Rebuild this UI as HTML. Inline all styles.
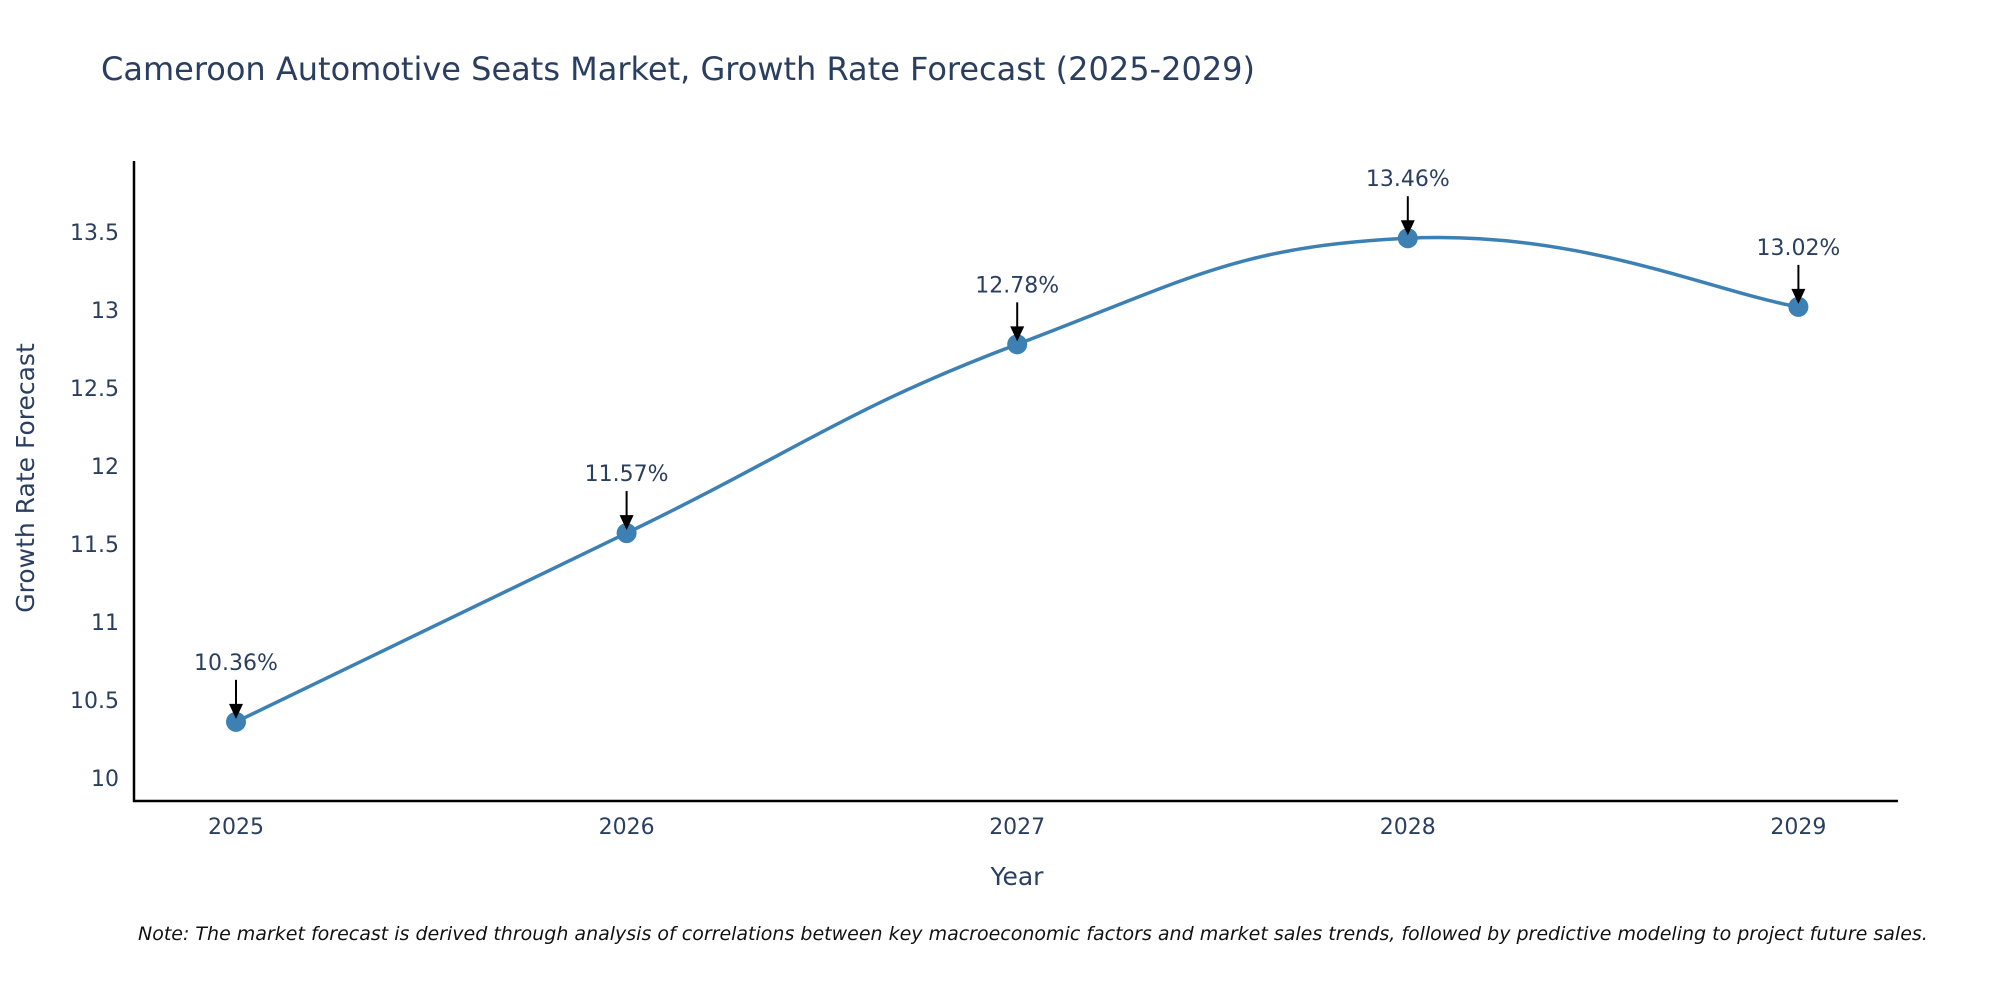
<!DOCTYPE html>
<html><head><meta charset="utf-8"><style>
body{margin:0;background:#fff;}
svg text{font-family:"DejaVu Sans","Liberation Sans",sans-serif;fill:#2a3f5f;}
</style></head><body>
<svg id="chart" width="2000" height="1000" xmlns="http://www.w3.org/2000/svg">
<text x="101" y="80" font-size="32">Cameroon Automotive Seats Market, Growth Rate Forecast (2025-2029)</text>
<g id="yticks"></g><g id="xticks"></g>
<path id="line" fill="none" stroke="#3d80b3" stroke-width="3.5"/>
<g id="marks"></g>
<line x1="134" y1="161" x2="134" y2="802" stroke="#000" stroke-width="2.5"/>
<line x1="133" y1="801" x2="1898" y2="801" stroke="#000" stroke-width="2.5"/>
<text x="1017" y="885" font-size="25" text-anchor="middle">Year</text>
<text transform="translate(34,478) rotate(-90)" font-size="25" text-anchor="middle">Growth Rate Forecast</text>
<text x="138" y="940" font-size="19" font-style="italic" style="fill:#111">Note: The market forecast is derived through analysis of correlations between key macroeconomic factors and market sales trends, followed by predictive modeling to project future sales.</text>
</svg>
<script>
const years=[2025,2026,2027,2028,2029];
const values=[10.36,11.57,12.78,13.46,13.02];
const labels=["10.36%","11.57%","12.78%","13.46%","13.02%"];
const yTicks=[10,10.5,11,11.5,12,12.5,13,13.5];
const NS="http://www.w3.org/2000/svg";
function X(yr){return 236+(yr-2025)*390.6;}
function Y(v){return 778-(v-10)*156;}
const yt=document.getElementById('yticks');
yTicks.forEach(t=>{const e=document.createElementNS(NS,'text');
e.setAttribute('x',119);e.setAttribute('y',Y(t)+8);e.setAttribute('font-size','22');e.setAttribute('text-anchor','end');


e.textContent=String(t);yt.appendChild(e);});
const xt=document.getElementById('xticks');
years.forEach(yr=>{const e=document.createElementNS(NS,'text');
e.setAttribute('x',X(yr));e.setAttribute('y',834);e.setAttribute('font-size','22');e.setAttribute('text-anchor','middle');


e.textContent=String(yr);xt.appendChild(e);});
const pts=years.map((yr,i)=>[X(yr),Y(values[i])]);
let d='M'+pts[0][0]+','+pts[0][1];
for(let i=0;i<pts.length-1;i++){
 const p0=pts[Math.max(0,i-1)],p1=pts[i],p2=pts[i+1],p3=pts[Math.min(pts.length-1,i+2)];
 const k=0.22;
 const c1=[p1[0]+(p2[0]-p0[0])*k,p1[1]+(p2[1]-p0[1])*k];
 const c2=[p2[0]-(p3[0]-p1[0])*k,p2[1]-(p3[1]-p1[1])*k];
 d+=' C'+c1[0]+','+c1[1]+' '+c2[0]+','+c2[1]+' '+p2[0]+','+p2[1];
}
document.getElementById('line').setAttribute('d',d);
const mk=document.getElementById('marks');
pts.forEach((p,i)=>{
 const c=document.createElementNS(NS,'circle');
 c.setAttribute('cx',p[0]);c.setAttribute('cy',p[1]);c.setAttribute('r',10);c.setAttribute('fill','#3d80b3');
 
 
 mk.appendChild(c);
 const l=document.createElementNS(NS,'line');
 l.setAttribute('x1',p[0]);l.setAttribute('y1',p[1]-42);l.setAttribute('x2',p[0]);l.setAttribute('y2',p[1]-16);
 l.setAttribute('stroke','#000');l.setAttribute('stroke-width','2');
 
 
 mk.appendChild(l);
 const a=document.createElementNS(NS,'polygon');
 a.setAttribute('points',(p[0]-7)+','+(p[1]-18)+' '+(p[0]+7)+','+(p[1]-18)+' '+p[0]+','+(p[1]-3));
 a.setAttribute('fill','#000');
 
 
 mk.appendChild(a);
 const t=document.createElementNS(NS,'text');
 t.setAttribute('x',p[0]);t.setAttribute('y',p[1]-52);t.setAttribute('font-size','22');t.setAttribute('text-anchor','middle');
 
 
 t.textContent=labels[i];mk.appendChild(t);
});
</script>
</body></html>
